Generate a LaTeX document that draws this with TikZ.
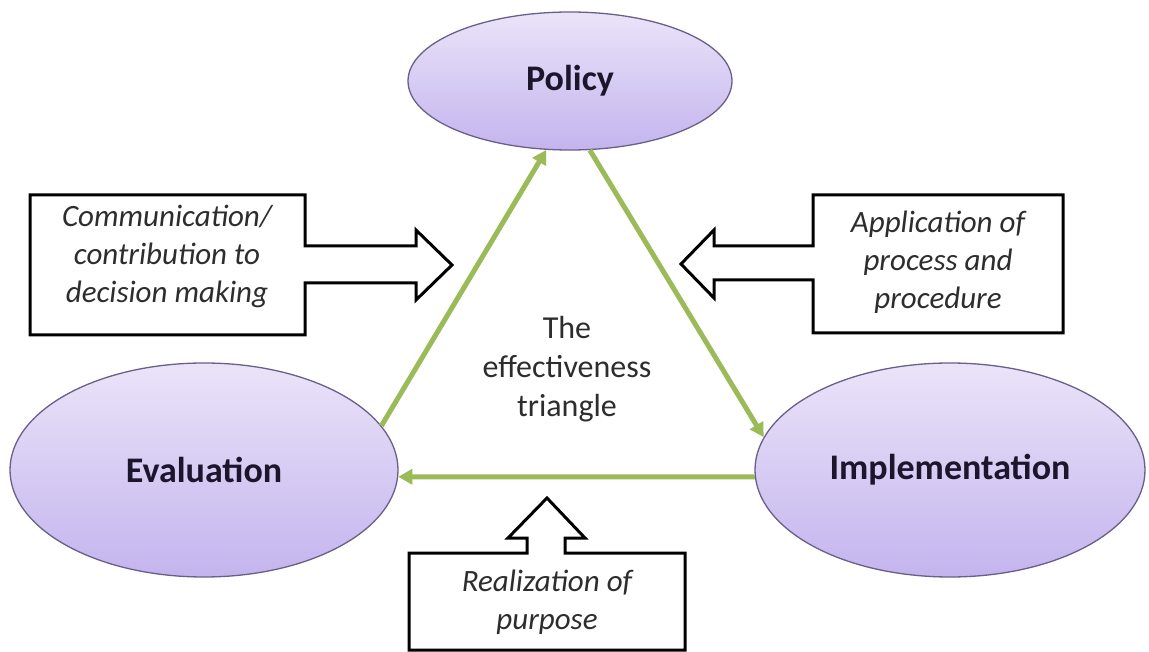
\documentclass[tikz,border=0pt]{standalone}
\usepackage{fontspec}
\setmainfont{Carlito}
\usetikzlibrary{shapes.geometric,arrows.meta}
\definecolor{tgreen}{RGB}{155,187,89}
\definecolor{ovline}{RGB}{105,95,135}
\definecolor{ovtop}{RGB}{234,228,249}
\definecolor{ovbot}{RGB}{196,180,238}
\definecolor{lbltext}{RGB}{28,22,45}
\definecolor{itext}{RGB}{45,45,45}
\begin{document}
\begin{tikzpicture}[x=1pt,y=-1pt,
  oval/.style={ellipse, draw=ovline, line width=1.3pt, top color=ovtop, bottom color=ovbot,
    inner sep=0pt, font=\fontsize{36}{40}\selectfont\bfseries, text=lbltext},
  callout/.style={draw=black, line width=3pt, line join=miter, fill=white},
  itxt/.style={align=center, font=\fontsize{31}{38}\selectfont\itshape, text=itext, inner sep=0pt},
  ctxt/.style={align=center, font=\fontsize{32}{39}\selectfont, text=itext, inner sep=0pt},
  link/.style={draw=tgreen, line width=5pt, -{Triangle[length=14pt,width=15pt]}}
]
\useasboundingbox (0,0) rectangle (1149,652);
\fill[white] (0,0) rectangle (1149,652);

% ellipses
\node[oval, minimum width=324pt, minimum height=138pt] (pol) at (570,81) {Policy};
\node[oval, minimum width=388pt, minimum height=214pt] (ev) at (204,470) {Evaluation};
\node[oval, minimum width=390pt, minimum height=214pt] (im) at (950,470) {Implementation};

% green triangle
\draw[link] (ev.14.5) -- (pol.251);
\draw[link] (pol.286) -- (im.170);
\draw[link] (im.182) -- (ev.358);

% callouts
\draw[callout] (30,195) -- (305,195) -- (305,246) -- (416,246) -- (416,230) -- (452,265)
  -- (416,300) -- (416,283) -- (305,283) -- (305,335) -- (30,335) -- cycle;
\draw[callout] (1063,195) -- (813,195) -- (813,246) -- (714,246) -- (714,230) -- (681,264)
  -- (714,298) -- (714,280) -- (813,280) -- (813,333) -- (1063,333) -- cycle;
\draw[callout] (409,650) -- (409,553) -- (527,553) -- (527,538) -- (508,538) -- (547,498)
  -- (585,538) -- (565,538) -- (565,553) -- (685,553) -- (685,650) -- cycle;

% texts
\node[itxt] (comm) at (167,256) {Communication/\\contribution to\\decision making};
\node[itxt] (appl) at (938,262) {Application of\\process and\\procedure};
\node[itxt] (real) at (547,602) {Realization of\\purpose};
\node[ctxt] (tri) at (567,369) {The\\effectiveness\\triangle};
\end{tikzpicture}
\end{document}
